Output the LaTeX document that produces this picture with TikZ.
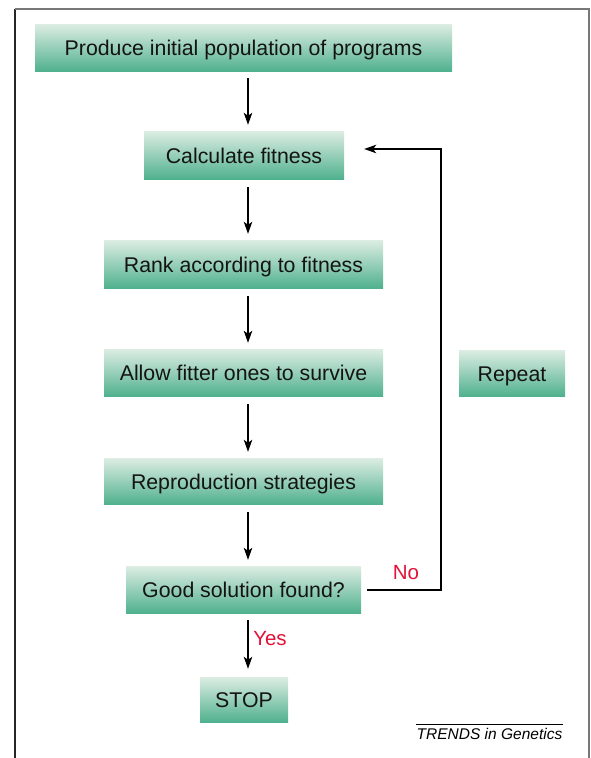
\documentclass[tikz,border=0pt]{standalone}
\usepackage{fontspec}
\setmainfont{Liberation Sans}
\usetikzlibrary{arrows.meta,calc}
\definecolor{gtop}{RGB}{221,237,227}
\definecolor{gbot}{RGB}{80,177,143}
\definecolor{lblred}{RGB}{226,18,56}
\definecolor{framegray}{RGB}{120,120,120}
\begin{document}
\begin{tikzpicture}[x=1pt,y=-1pt,
  box/.style={top color=gtop, bottom color=gbot, draw=none, inner sep=0pt,
    font=\fontsize{21.3}{25}\selectfont, text=black!92, text depth=0pt, text height=16pt},
  arr/.style={line width=1.2pt, -{Stealth[length=12pt,width=8.5pt,inset=3pt]}},
  lbl/.style={text=lblred, font=\fontsize{20.5}{24}\selectfont, inner sep=0pt}]
\useasboundingbox (0,0) rectangle (590,758);
% frame
\draw[line width=1.6pt, black!85] (15,758) -- (15,9);
\draw[line width=1.8pt, framegray] (14.5,9) -- (589,9) -- (589,758);
% boxes
\node[box, minimum width=417pt, minimum height=47pt] (p1) at (243.5,47.5) {Produce initial population of programs};
\node[box, minimum width=200pt, minimum height=48pt] (p2) at (244,155) {Calculate fitness};
\node[box, minimum width=279pt, minimum height=48pt] (p3) at (243.5,264) {Rank according to fitness};
\node[box, minimum width=279pt, minimum height=47pt] (p4) at (243.5,372.5) {Allow fitter ones to survive};
\node[box, minimum width=279pt, minimum height=46pt] (p5) at (243.5,481) {Reproduction strategies};
\node[box, minimum width=235pt, minimum height=47pt] (p6) at (243.5,589.5) {Good solution found?};
\node[box, minimum width=88pt, minimum height=45pt] (p7) at (244,699.5) {STOP};
\node[box, minimum width=106pt, minimum height=46pt] (rep) at (512,373) {Repeat};
% vertical arrows
\coordinate (ax) at (248,0);
\draw[arr] ($(p1.south -| ax)+(0,7)$) -- ($(p2.north -| ax)+(0,-6)$);
\draw[arr] ($(p2.south -| ax)+(0,8)$) -- ($(p3.north -| ax)+(0,-6)$);
\draw[arr] ($(p3.south -| ax)+(0,8)$) -- ($(p4.north -| ax)+(0,-6)$);
\draw[arr] ($(p4.south -| ax)+(0,8)$) -- ($(p5.north -| ax)+(0,-6)$);
\draw[arr] ($(p5.south -| ax)+(0,8)$) -- ($(p6.north -| ax)+(0,-6)$);
\draw[arr] ($(p6.south -| ax)+(0,7)$) -- ($(p7.north -| ax)+(0,-8)$);
% feedback loop
\coordinate (fbtop) at (441,149);
\draw[arr] ($(p6.east)+(6,0.5)$) -| (fbtop) -- ($(p2.east)+(20,-6)$);
% labels
\node[lbl] (no) at (406,573) {No};
\node[lbl] (yes) at (270,639) {Yes};
% credit
\node[font=\fontsize{15.5}{18}\selectfont\itshape, inner sep=0pt] (tr) at (489.5,734) {TRENDS in Genetics};
\coordinate (trl) at (416,724);
\coordinate (trr) at (563,724);
\draw[line width=1pt] (trl) -- (trr);
\end{tikzpicture}
\end{document}
